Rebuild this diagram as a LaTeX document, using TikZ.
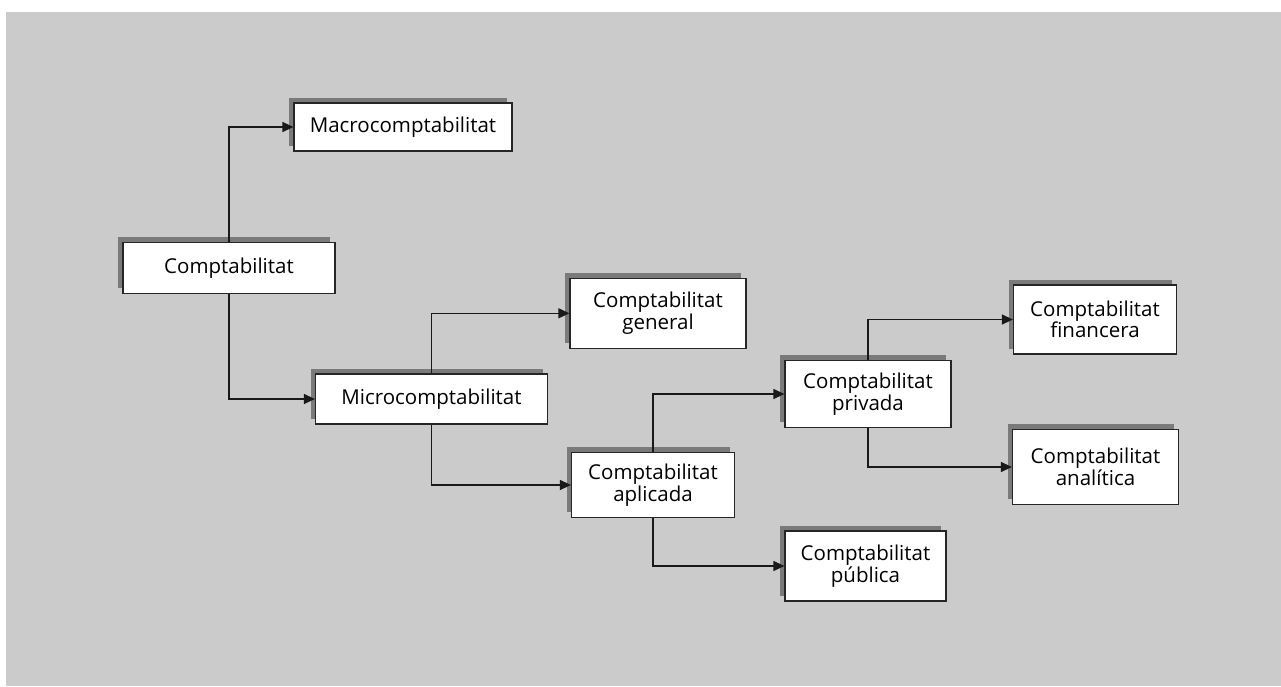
\documentclass[tikz,border=0pt]{standalone}
\usepackage{fontspec}
\setmainfont{Open Sans}
\usetikzlibrary{arrows.meta,shadows}
\definecolor{panelgray}{RGB}{203,203,203}
\definecolor{shadowgray}{RGB}{122,122,122}

\begin{document}
\begin{tikzpicture}[x=1pt,y=-1pt,>={Triangle[length=11pt,width=10pt]},
                    line width=1.2pt,
  box/.style={draw=black!85,fill=white,align=center,inner sep=0pt,
              font=\fontsize{20.5}{21.5}\selectfont,
              general shadow={fill=shadowgray,shadow xshift=-5pt,shadow yshift=5.5pt}},
  elbow/.style={->,draw=black!90,to path={|- (\tikztotarget) \tikztonodes}}]
  \useasboundingbox (0,0) rectangle (1281,686);
  \fill[panelgray] (6,12) rectangle (1281,686);

  \node[box,minimum width=212pt,minimum height=51pt] (comp)      at (229,268)   {Comptabilitat};
  \node[box,minimum width=218pt,minimum height=48pt] (macro)     at (403,127)   {Macrocomptabilitat};
  \node[box,minimum width=232pt,minimum height=50pt] (micro)     at (431.5,399) {Microcomptabilitat};
  \node[box,minimum width=176pt,minimum height=70pt] (general)   at (658,313.3) {Comptabilitat\\general};
  \node[box,minimum width=163pt,minimum height=65pt] (aplicada)  at (653,485)   {Comptabilitat\\aplicada};
  \node[box,minimum width=166pt,minimum height=67pt] (privada)   at (868,394)   {Comptabilitat\\privada};
  \node[box,minimum width=161pt,minimum height=70pt] (publica)   at (865.5,566) {Comptabilitat\\pública};
  \node[box,minimum width=163pt,minimum height=69pt] (financera) at (1095,319.5) {Comptabilitat\\financera};
  \node[box,minimum width=166pt,minimum height=75pt] (analitica) at (1095.5,467) {Comptabilitat\\analítica};

  \path (comp.north)     edge[elbow] (macro.west)
        (comp.south)     edge[elbow] (micro.west)
        (micro.north)    edge[elbow] (general.west)
        (micro.south)    edge[elbow] (aplicada.west)
        (aplicada.north) edge[elbow] (privada.west)
        (aplicada.south) edge[elbow] (publica.west)
        (privada.north)  edge[elbow] (financera.west)
        (privada.south)  edge[elbow] (analitica.west);
\end{tikzpicture}
\end{document}
